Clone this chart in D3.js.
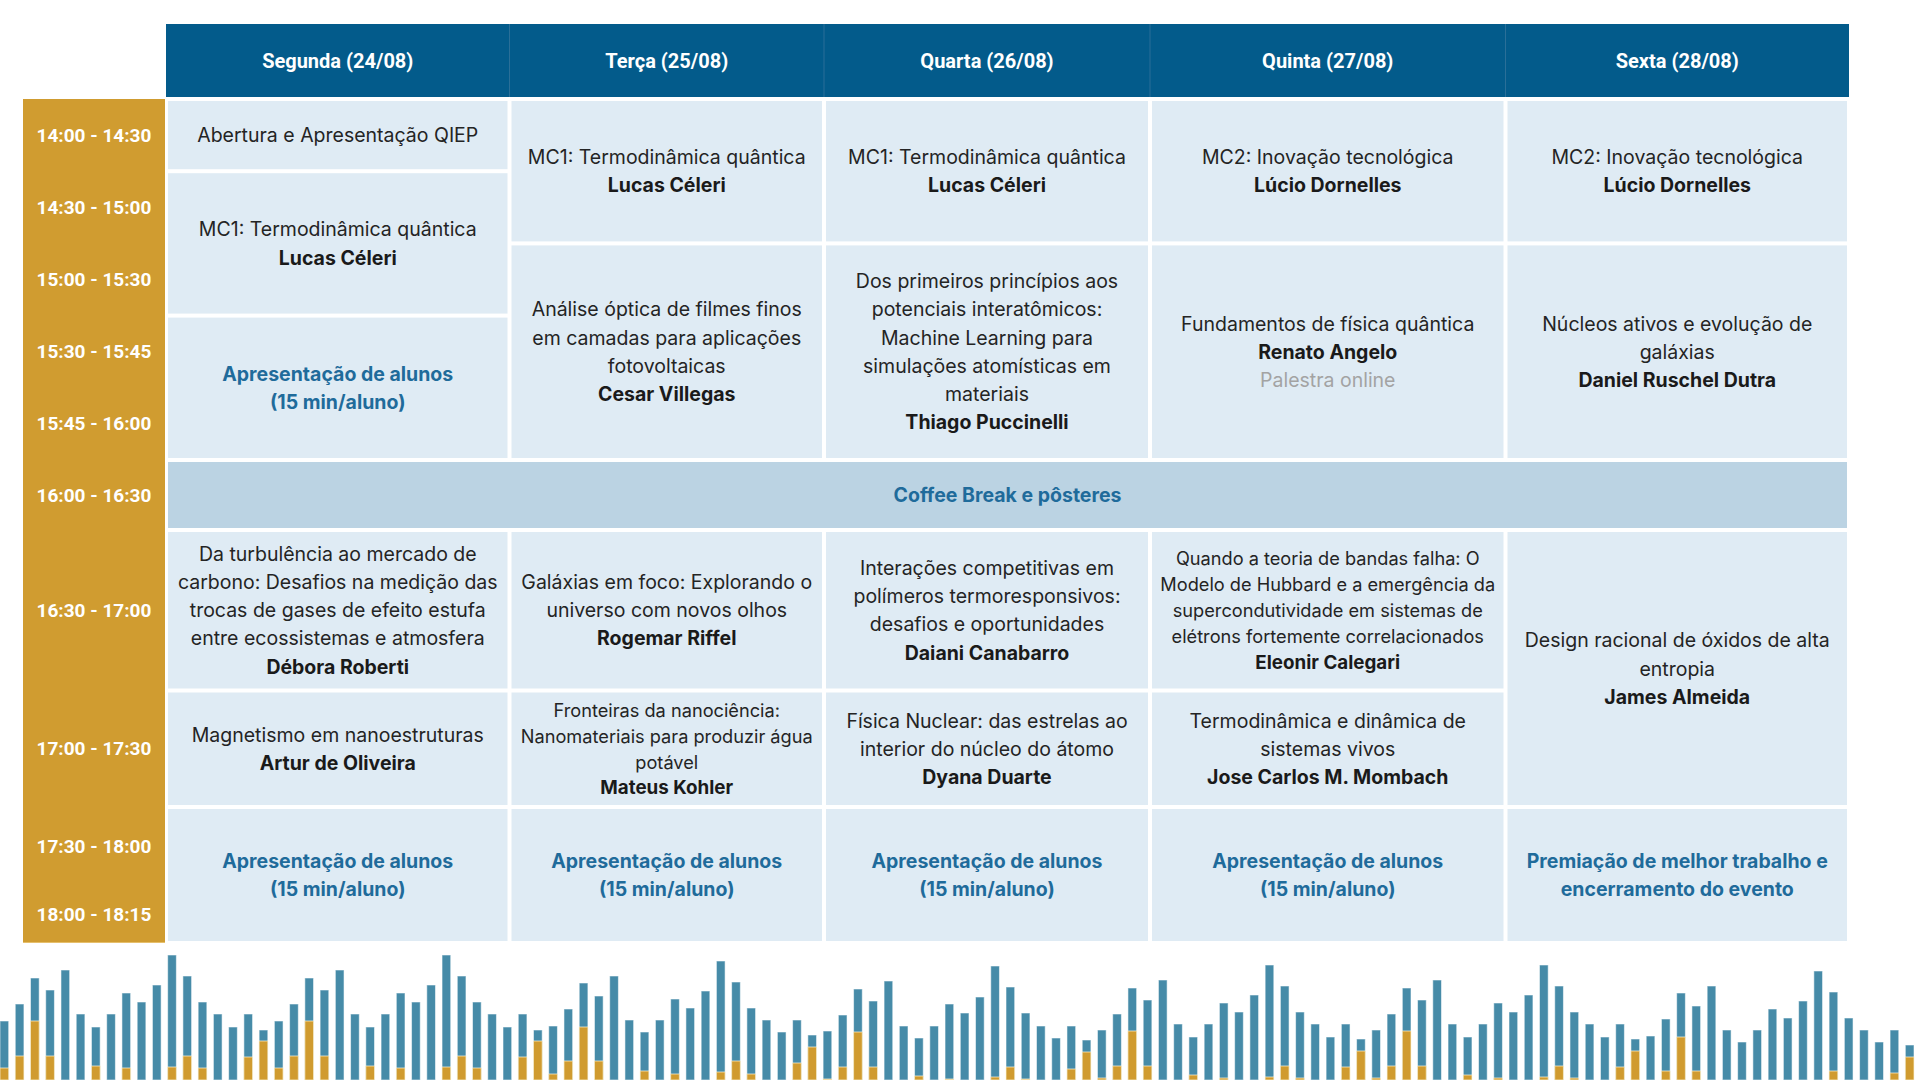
<!DOCTYPE html>
<html><head><meta charset="utf-8">
<script src="https://cdn.jsdelivr.net/npm/d3@7"></script>
<style>
body{margin:0;background:#fff}
svg{display:block}
</style></head>
<body><svg id="c" width="1920" height="1080"></svg>
<script>
// ---------------- DATA ----------------
const days = ["Segunda (24/08)", "Terça (25/08)", "Quarta (26/08)", "Quinta (27/08)", "Sexta (28/08)"];
const timeSlots = ["14:00 - 14:30", "14:30 - 15:00", "15:00 - 15:30", "15:30 - 15:45", "15:45 - 16:00",
  "16:00 - 16:30", "16:30 - 17:00", "17:00 - 17:30", "17:30 - 18:00", "18:00 - 18:15"];
const coffeeBreak = {from: 5, to: 6, text: "Coffee Break e pôsteres"};
const alunos = ["Apresentação de alunos", "(15 min/aluno)"];
const sessions = [
  {day: 0, from: 0, to: 1, title: ["Abertura e Apresentação QIEP"]},
  {day: 0, from: 1, to: 3, title: ["MC1: Termodinâmica quântica"], speaker: "Lucas Céleri"},
  {day: 0, from: 3, to: 5, highlight: alunos},
  {day: 0, from: 6, to: 7, title: ["Da turbulência ao mercado de", "carbono: Desafios na medição das", "trocas de gases de efeito estufa", "entre ecossistemas e atmosfera"], speaker: "Débora Roberti"},
  {day: 0, from: 7, to: 8, title: ["Magnetismo em nanoestruturas"], speaker: "Artur de Oliveira"},
  {day: 0, from: 8, to: 10, highlight: alunos},

  {day: 1, from: 0, to: 2, title: ["MC1: Termodinâmica quântica"], speaker: "Lucas Céleri"},
  {day: 1, from: 2, to: 5, title: ["Análise óptica de filmes finos", "em camadas para aplicações", "fotovoltaicas"], speaker: "Cesar Villegas"},
  {day: 1, from: 6, to: 7, title: ["Galáxias em foco: Explorando o", "universo com novos olhos"], speaker: "Rogemar Riffel"},
  {day: 1, from: 7, to: 8, small: true, title: ["Fronteiras da nanociência:", "Nanomateriais para produzir água", "potável"], speaker: "Mateus Kohler"},
  {day: 1, from: 8, to: 10, highlight: alunos},

  {day: 2, from: 0, to: 2, title: ["MC1: Termodinâmica quântica"], speaker: "Lucas Céleri"},
  {day: 2, from: 2, to: 5, title: ["Dos primeiros princípios aos", "potenciais interatômicos:", "Machine Learning para", "simulações atomísticas em", "materiais"], speaker: "Thiago Puccinelli"},
  {day: 2, from: 6, to: 7, title: ["Interações competitivas em", "polímeros termoresponsivos:", "desafios e oportunidades"], speaker: "Daiani Canabarro"},
  {day: 2, from: 7, to: 8, title: ["Física Nuclear: das estrelas ao", "interior do núcleo do átomo"], speaker: "Dyana Duarte"},
  {day: 2, from: 8, to: 10, highlight: alunos},

  {day: 3, from: 0, to: 2, title: ["MC2: Inovação tecnológica"], speaker: "Lúcio Dornelles"},
  {day: 3, from: 2, to: 5, title: ["Fundamentos de física quântica"], speaker: "Renato Angelo", note: "Palestra online"},
  {day: 3, from: 6, to: 7, small: true, title: ["Quando a teoria de bandas falha: O", "Modelo de Hubbard e a emergência da", "supercondutividade em sistemas de", "elétrons fortemente correlacionados"], speaker: "Eleonir Calegari"},
  {day: 3, from: 7, to: 8, title: ["Termodinâmica e dinâmica de", "sistemas vivos"], speaker: "Jose Carlos M. Mombach"},
  {day: 3, from: 8, to: 10, highlight: alunos},

  {day: 4, from: 0, to: 2, title: ["MC2: Inovação tecnológica"], speaker: "Lúcio Dornelles"},
  {day: 4, from: 2, to: 5, title: ["Núcleos ativos e evolução de", "galáxias"], speaker: "Daniel Ruschel Dutra"},
  {day: 4, from: 6, to: 8, title: ["Design racional de óxidos de alta", "entropia"], speaker: "James Almeida"},
  {day: 4, from: 8, to: 10, highlight: ["Premiação de melhor trabalho e", "encerramento do evento"]}
];

// decorative bar strip (total height and gold part)
const barTotal = [
  59, 76, 102, 90, 110, 66, 53, 66, 87, 78, 95, 125, 104, 78, 66, 53, 66, 50,
  59, 76, 102, 90, 110, 66, 53, 66, 87, 78, 95, 125, 104, 78, 66, 53, 66, 50,
  54, 71, 97, 84, 104, 60, 48, 60, 81, 72, 89, 119, 98, 72, 60, 48, 60, 45,
  49, 65, 91, 79, 99, 54, 42, 54, 76, 67, 83, 114, 93, 67, 54, 42, 54, 40,
  50, 66, 92, 80, 100, 56, 43, 56, 77, 68, 85, 115, 94, 68, 56, 43, 56, 41,
  50, 66, 92, 80, 100, 56, 43, 56, 77, 68, 85, 115, 94, 68, 56, 43, 56, 41,
  44, 61, 87, 74, 94, 50, 38, 50, 71, 62, 79, 109, 88, 62, 50, 38, 50, 35
];
const barGold = [
  12, 24, 59, 24, 0, 0, 14, 0, 12, 0, 0, 13, 24, 12, 0, 0, 23, 39,
  12, 24, 59, 24, 0, 0, 14, 0, 12, 0, 0, 13, 24, 12, 0, 0, 23, 39,
  6, 19, 53, 19, 0, 0, 9, 0, 6, 0, 0, 8, 19, 6, 0, 0, 17, 33,
  1, 13, 48, 13, 0, 0, 4, 0, 1, 0, 0, 3, 13, 1, 0, 0, 11, 28,
  2, 14, 49, 14, 0, 0, 5, 0, 2, 0, 0, 3, 14, 2, 0, 0, 13, 29,
  2, 14, 49, 14, 0, 0, 5, 0, 2, 0, 0, 3, 14, 2, 0, 0, 13, 29,
  0, 9, 43, 9, 0, 0, 0, 0, 0, 0, 0, 0, 9, 0, 0, 0, 7, 23
];

// ---------------- LAYOUT ----------------
const W = 1920, H = 1080;
const colEdges = [166, 509.5, 824, 1150, 1505.5, 1849];
const rowEdges = [99, 171.2, 243.4, 315.6, 387.8, 460, 530, 690.5, 807, 886, 943];
const header = {top: 24, bottom: 97};
const timeCol = {left: 23, right: 165};
const gap = 2;
const C = {
  header: "#035b8b", headerLine: "#2a6f98", gold: "#d09c30", cell: "#dfebf4", coffee: "#bbd3e3",
  blueText: "#1f6b9b", text: "#242424", name: "#1a1a1a", note: "#a3a3a3",
  bar: "#468ba8", barGold: "#d09b2f"
};
const headFont = "'Roboto','Lato',sans-serif";
const bodyFont = "'Inter','Lato',sans-serif";

const svg = d3.select("#c");

const xDay = d3.scaleOrdinal().domain(d3.range(days.length + 1)).range(colEdges);
const yRow = d3.scaleOrdinal().domain(d3.range(timeSlots.length + 1)).range(rowEdges);

// ---------- bars ----------
const xb = d3.scaleBand().domain(d3.range(barTotal.length)).range([0, 1914]).paddingInner(0.43).paddingOuter(0);
const yb = d3.scaleLinear().domain([0, 130]).range([H, H - 130]);
const gBars = svg.append("g");
gBars.selectAll("rect.tot").data(barTotal).join("rect")
  .attr("x", (d, i) => xb(i)).attr("width", xb.bandwidth())
  .attr("y", d => yb(d)).attr("height", d => H - yb(d))
  .attr("fill", C.bar).attr("stroke", "rgba(255,255,255,0.55)").attr("stroke-width", 1);
gBars.selectAll("rect.gold").data(barGold.map((v, i) => ({v, i})).filter(d => d.v > 0)).join("rect")
  .attr("x", d => xb(d.i)).attr("width", xb.bandwidth())
  .attr("y", d => yb(d.v)).attr("height", d => H - yb(d.v))
  .attr("fill", C.barGold).attr("stroke", "rgba(255,245,215,0.7)").attr("stroke-width", 1);

// ---------- header ----------
svg.append("rect").attr("x", colEdges[0]).attr("y", header.top)
  .attr("width", colEdges[colEdges.length - 1] - colEdges[0]).attr("height", header.bottom - header.top)
  .attr("fill", C.header);
svg.selectAll("line.hsep").data(colEdges.slice(1, -1)).join("line")
  .attr("x1", d => d).attr("x2", d => d).attr("y1", header.top).attr("y2", header.bottom)
  .attr("stroke", C.headerLine).attr("stroke-width", 1);
svg.selectAll("text.day").data(days).join("text")
  .attr("x", (d, i) => (xDay(i) + xDay(i + 1)) / 2)
  .attr("y", (header.top + header.bottom) / 2)
  .attr("text-anchor", "middle").attr("dominant-baseline", "central")
  .attr("fill", "#fff").style("font-family", headFont).style("font-weight", 700).style("font-size", "20px")
  .text(d => d);

// ---------- time column ----------
svg.append("rect").attr("x", timeCol.left).attr("y", rowEdges[0])
  .attr("width", timeCol.right - timeCol.left).attr("height", rowEdges[rowEdges.length - 1] - rowEdges[0])
  .attr("fill", C.gold);
svg.append("line").attr("x1", timeCol.left).attr("x2", timeCol.right)
  .attr("y1", rowEdges[rowEdges.length - 1] - 0.5).attr("y2", rowEdges[rowEdges.length - 1] - 0.5)
  .attr("stroke", "#e6bf6c").attr("stroke-width", 1);
svg.selectAll("text.time").data(timeSlots).join("text")
  .attr("x", (timeCol.left + timeCol.right) / 2)
  .attr("y", (d, i) => (yRow(i) + yRow(i + 1)) / 2)
  .attr("text-anchor", "middle").attr("dominant-baseline", "central")
  .attr("fill", "#fff").style("font-family", headFont).style("font-weight", 700).style("font-size", "19px")
  .text(d => d);

// ---------- coffee break ----------
svg.append("rect").attr("x", colEdges[0] + gap).attr("y", yRow(coffeeBreak.from) + gap)
  .attr("width", colEdges[colEdges.length - 1] - colEdges[0] - 2 * gap)
  .attr("height", yRow(coffeeBreak.to) - yRow(coffeeBreak.from) - 2 * gap)
  .attr("fill", C.coffee);
svg.append("text").attr("x", (colEdges[0] + colEdges[colEdges.length - 1]) / 2)
  .attr("y", (yRow(coffeeBreak.from) + yRow(coffeeBreak.to)) / 2)
  .attr("text-anchor", "middle").attr("dominant-baseline", "central")
  .attr("fill", C.blueText).style("font-family", bodyFont).style("font-weight", 700).style("font-size", "19.5px")
  .text(coffeeBreak.text);

// ---------- sessions ----------
const gS = svg.append("g");
sessions.forEach(s => {
  const x0 = xDay(s.day), x1 = xDay(s.day + 1);
  const y0 = yRow(s.from), y1 = yRow(s.to);
  gS.append("rect").attr("x", x0 + gap).attr("y", y0 + gap)
    .attr("width", x1 - x0 - 2 * gap).attr("height", y1 - y0 - 2 * gap).attr("fill", C.cell);
  const lines = [];
  (s.title || []).forEach(t => lines.push({t, k: "t"}));
  if (s.speaker) lines.push({t: s.speaker, k: "s"});
  if (s.note) lines.push({t: s.note, k: "o"});
  (s.highlight || []).forEach(t => lines.push({t, k: "h"}));
  const fs = s.small ? 18.2 : 19.5;
  const lh = s.small ? 26 : 28.2;
  const cx = (x0 + x1) / 2, cy = (y0 + y1) / 2;
  lines.forEach((l, i) => {
    const size = (l.k === "s") ? (s.small ? 18.8 : 19.5) : fs;
    gS.append("text").attr("x", cx).attr("y", cy + (i - (lines.length - 1) / 2) * lh)
      .attr("text-anchor", "middle").attr("dominant-baseline", "central")
      .style("font-family", bodyFont).style("font-size", size + "px")
      .style("font-weight", l.k === "t" || l.k === "o" ? 400 : 700)
      .attr("fill", l.k === "t" ? C.text : l.k === "s" ? C.name : l.k === "o" ? C.note : C.blueText)
      .text(l.t);
  });
});
</script></body></html>
